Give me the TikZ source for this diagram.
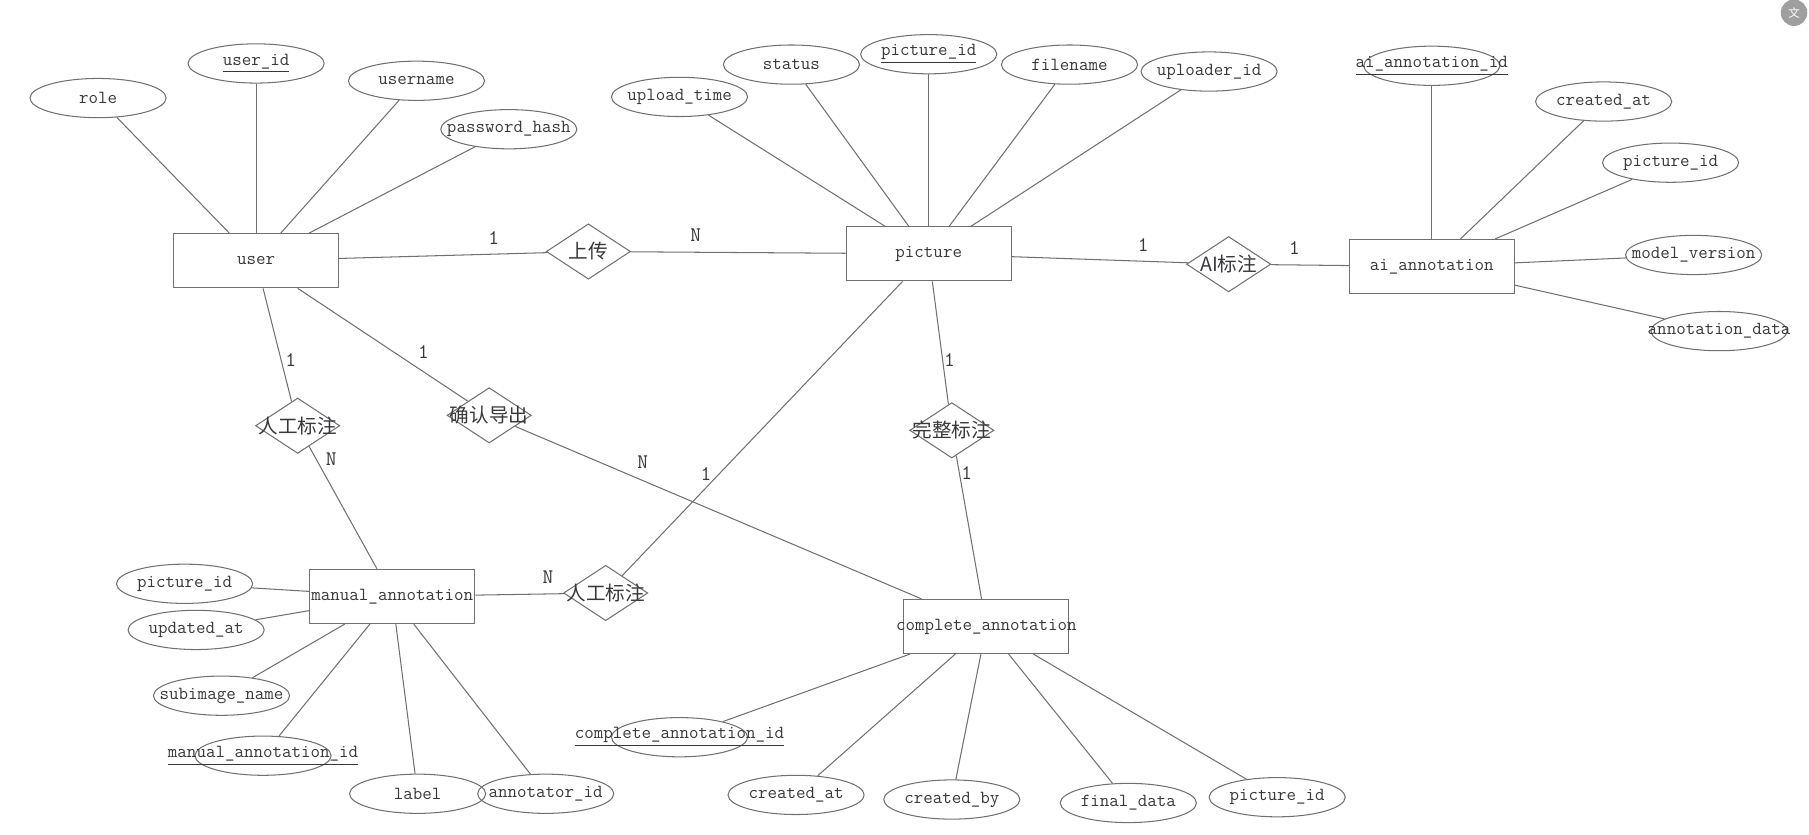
\documentclass[tikz,border=0pt]{standalone}
\usepackage{fontspec}
\usepackage{mathtools}
\usepackage{tikz}
\usetikzlibrary{shapes}
\newfontfamily\cjk{Noto Sans CJK SC}
\definecolor{linegray}{RGB}{112,112,112}
\definecolor{textgray}{RGB}{55,55,60}
\tikzset{every node/.append style={text=textgray, font=\ttfamily\fontsize{16}{18}\selectfont}}
\tikzset{entity/.style={draw=linegray, rectangle, line width=0.9pt, minimum width=143pt, minimum height=47pt, inner sep=0pt}}
\tikzset{attr/.style={draw=linegray, ellipse, line width=0.9pt, minimum width=118pt, minimum height=34pt, inner sep=0pt}}
\tikzset{rel/.style={draw=linegray, diamond, line width=0.9pt, minimum width=73pt, minimum height=48pt, inner sep=0pt, font=\cjk\fontsize{17}{18}\selectfont}}
\tikzset{card/.style={font=\ttfamily\fontsize{18}{18}\selectfont}}
\tikzset{conn/.style={draw=linegray, line width=0.9pt}}

\begin{document}
\begin{tikzpicture}[x=1pt,y=-1pt]
\useasboundingbox (0,0) rectangle (1568,723);
% entities
\node[entity] (user) at (222,226) {\clap{user}};
\node[entity] (picture) at (805,220) {\clap{picture}};
\node[entity] (aiann) at (1241,231) {\clap{ai\_annotation}};
\node[entity] (manann) at (340,517) {\clap{manual\_annotation}};
\node[entity] (compann) at (855,543) {\clap{complete\_annotation}};
% relationships
\node[rel] (upload) at (510,218) {\clap{上传}};
\node[rel] (aimark) at (1065,229) {\clap{AI标注}};
\node[rel] (manmark) at (258,369) {\clap{人工标注}};
\node[rel] (confirm) at (424,360) {\clap{确认导出}};
\node[rel] (fullmark) at (825,373) {\clap{完整标注}};
\node[rel] (manmarkb) at (525,514) {\clap{人工标注}};
% user attributes
\node[attr] (urole) at (85,85) {\clap{role}};
\node[attr] (uid) at (222,55) {\clap{\underline{user\_id}}};
\node[attr] (uname) at (361,70) {\clap{username}};
\node[attr] (upass) at (441,112) {\clap{password\_hash}};
% picture attributes
\node[attr] (ptime) at (589,84) {\clap{upload\_time}};
\node[attr] (pstatus) at (686,56) {\clap{status}};
\node[attr] (pid) at (805,47) {\clap{\underline{picture\_id}}};
\node[attr] (pfile) at (927,56) {\clap{filename}};
\node[attr] (puploader) at (1048,62) {\clap{uploader\_id}};
% ai_annotation attributes
\node[attr] (aid) at (1241,57) {\clap{\underline{ai\_annotation\_id}}};
\node[attr] (acreated) at (1390,88) {\clap{created\_at}};
\node[attr] (apic) at (1448,141) {\clap{picture\_id}};
\node[attr] (amodel) at (1468,221) {\clap{model\_version}};
\node[attr] (adata) at (1490,287) {\clap{annotation\_data}};
% manual_annotation attributes
\node[attr] (mpic) at (160,506) {\clap{picture\_id}};
\node[attr] (mupdated) at (170,546) {\clap{updated\_at}};
\node[attr] (msub) at (192,603) {\clap{subimage\_name}};
\node[attr] (mid) at (228,655) {\clap{\underline{manual\_annotation\_id}}};
\node[attr] (mlabel) at (362,688) {\clap{label}};
\node[attr] (mannot) at (473,688) {\clap{annotator\_id}};
% complete_annotation attributes
\node[attr] (cid) at (589,639) {\clap{\underline{complete\_annotation\_id}}};
\node[attr] (ccreated) at (690,689) {\clap{created\_at}};
\node[attr] (cby) at (825,693) {\clap{created\_by}};
\node[attr] (cfinal) at (978,696) {\clap{final\_data}};
\node[attr] (cpic) at (1107,691) {\clap{picture\_id}};

% attribute links
\foreach \a in {urole,uid,uname,upass}
  \draw[conn] (\a) -- (user);
\foreach \a in {ptime,pstatus,pid,pfile,puploader}
  \draw[conn] (\a) -- (picture);
\foreach \a in {aid,acreated,apic,amodel,adata}
  \draw[conn] (\a) -- (aiann);
\foreach \a in {mpic,mupdated,msub,mid,mlabel,mannot}
  \draw[conn] (\a) -- (manann);
\foreach \a in {cid,ccreated,cby,cfinal,cpic}
  \draw[conn] (\a) -- (compann);

% relationship links
\draw[conn] (user) -- (upload);
\draw[conn] (upload) -- (picture);
\draw[conn] (picture) -- (aimark);
\draw[conn] (aimark) -- (aiann);
\draw[conn] (user) -- (manmark);
\draw[conn] (manmark) -- (manann);
\draw[conn] (user) -- (confirm);
\draw[conn] (confirm) -- (compann);
\draw[conn] (picture) -- (fullmark);
\draw[conn] (fullmark) -- (compann);
\draw[conn] (manann) -- (manmarkb);
\draw[conn] (manmarkb) -- (picture);

% cardinalities
\node[card] (kup1) at (428,206) {1};
\node[card] (kupn) at (603,204) {N};
\node[card] (kai1) at (991,212) {1};
\node[card] (kai2) at (1122,215) {1};
\node[card] (kman1) at (252,312) {1};
\node[card] (kmann) at (287,398) {N};
\node[card] (kcon1) at (367,305) {1};
\node[card] (kconn) at (557,401) {N};
\node[card] (kfull1) at (823,312) {1};
\node[card] (kfull2) at (838,410) {1};
\node[card] (kmbn) at (475,500) {N};
\node[card] (kmb1) at (612,411) {1};

% corner button
\node[circle, fill=gray!75, minimum size=23pt, inner sep=0pt, text=white, font=\cjk\fontsize{10}{10}\selectfont] (xlate) at (1555,11) {文};
\end{tikzpicture}
\end{document}
